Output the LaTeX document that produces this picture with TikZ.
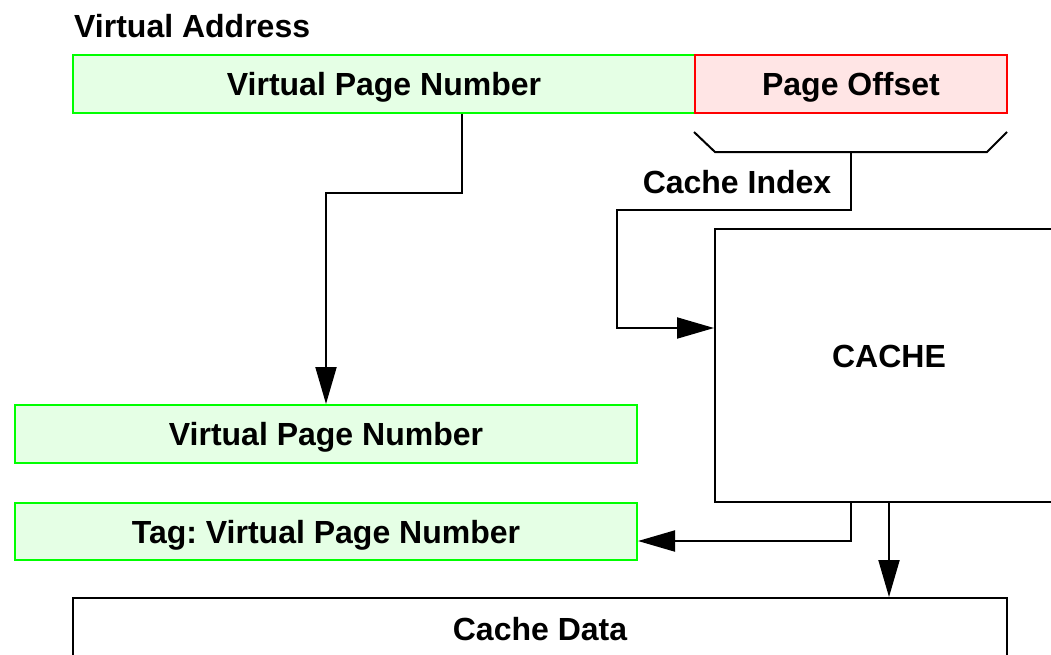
\documentclass[tikz,border=0pt]{standalone}
\usepackage{fontspec}
\setmainfont{Liberation Sans}
\frenchspacing
\usetikzlibrary{arrows.meta}
\definecolor{vpnfill}{RGB}{229,255,229}
\definecolor{vpnline}{RGB}{0,255,0}
\definecolor{offfill}{RGB}{255,229,229}
\definecolor{offline}{RGB}{255,0,0}
\tikzset{
  % caps are vertically centred on the node centre
  lbl/.style={font=\fontsize{32}{38}\selectfont\bfseries, inner sep=0pt,
              text height=23pt, text depth=0pt},
  field/.style={lbl, draw, line width=2pt, minimum height=58pt},
  greenfield/.style={field, draw=vpnline, fill=vpnfill, minimum width=622pt},
  redfield/.style={field, draw=offline, fill=offfill, minimum width=312pt},
  plainbox/.style={draw=black, line width=2pt, inner sep=0pt},
  wire/.style={line width=2pt, line join=miter},
  arr/.style={wire, -{Triangle[length=37pt,width=21pt]}},
}
\begin{document}
\begin{tikzpicture}[x=1pt,y=-1pt]
\useasboundingbox (0,0) rectangle (1051,654);
\clip (0,0) rectangle (1051,654);

% address fields
\node[lbl, anchor=west] (va) at (74,26) {Virtual Address};
\node[greenfield] (vpn) at (384,84) {Virtual Page Number};
\node[redfield] (po) at (851,84) {Page Offset};

% brace under the page offset
\coordinate (brk) at (851,152);
\draw[wire] (694,132) -- (715,152) -- (987,152) -- (1007,132);

% cache array and its outputs
\node[plainbox, minimum width=348pt, minimum height=273pt] (cache) at (889,365.5) {};
\node[lbl] (cachelbl) at (889,356) {CACHE};
\node[greenfield] (vpn2) at (326,434) {Virtual Page Number};
\node[greenfield, minimum height=57pt] (tag) at (326,531.5) {Tag: Virtual Page Number};
\node[plainbox, lbl, minimum width=934pt, minimum height=62pt] (data) at (540,629) {Cache Data};

% index into the cache
\node[lbl] (cilbl) at (737,181.5) {Cache Index};
\draw[arr] (brk) -- (851,210) -- (617,210) |- ([yshift=37.5pt]cache.west);

% page number path
\draw[arr] ([xshift=78pt]vpn.south) -- (462,193) -| (vpn2.north);

% tag and data out of the cache
\draw[arr] ([xshift=-38pt]cache.south) |- ([yshift=-9.5pt]tag.east);
\draw[arr] (cache.south) -- (cache.south |- data.north);
\end{tikzpicture}
\end{document}
